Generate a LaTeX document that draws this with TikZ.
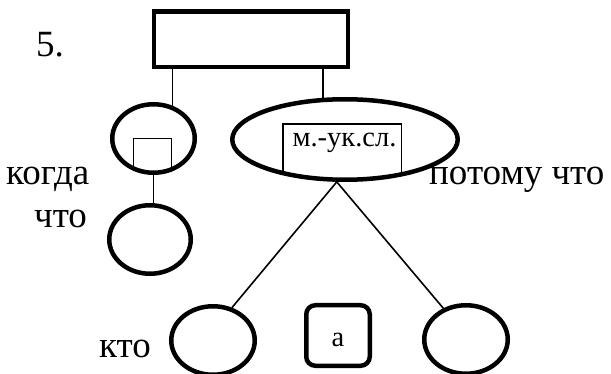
\documentclass[tikz,border=0pt]{standalone}
\usepackage{fontspec}
\newfontfamily\libserif{Liberation Serif}[Extension=.ttf, UprightFont=LiberationSerif-Regular]
\usetikzlibrary{shapes.geometric}
\begin{document}
\begin{tikzpicture}[x=1pt, y=-1pt,
  heavy/.style={draw, line width=4.5pt, inner sep=0pt},
  oval/.style={heavy, ellipse},
  word/.style={inner sep=0pt, anchor=base west, font=\fontsize{37}{40}\selectfont\libserif},
  small/.style={inner sep=0pt, anchor=base, font=\fontsize{28.5}{32}\selectfont\libserif},
  link/.style={line width=1.6pt},
  frame/.style={line width=1.2pt}]
  \useasboundingbox (0,0) rectangle (611,374);
  \node[word] (num) at (36,57) {5.};
  \node[heavy, minimum width=194pt, minimum height=55.5pt] (top) at (251,39.25) {};
  \node[oval, minimum width=82.5pt, minimum height=68.5pt] (when) at (153.5,138.5) {};
  \node[oval, minimum width=81.5pt, minimum height=68.5pt] (what) at (150,239.5) {};
  \node[oval, minimum width=225.5pt, minimum height=80.5pt] (mid) at (345,139.5) {};
  \node[oval, minimum width=83.5pt, minimum height=68.5pt] (who) at (213,340.5) {};
  \node[oval, minimum width=83.5pt, minimum height=68.5pt] (right) at (466,339.5) {};
  \node[heavy, rounded corners=9pt, minimum width=63.5pt, minimum height=60.5pt] (abox) at (338,335.5) {};
  \node[small] (alabel) at (338,346) {а};
  \node[small] (mlabel) at (344.5,147) {м.-ук.сл.};
  \coordinate (mtop) at (342,124);
  \node[word] (kogda) at (6,185) {когда};
  \node[word] (chto) at (34,228) {что};
  \node[word] (kto) at (99,357) {кто};
  \node[word] (potomu) at (429,185) {потому что};
  \draw[link] (top.south -| when.60) -- (when.60);
  \draw[link] (top.south -| mid.118) -- (mid.118);
  \draw[link] (when.south) -- (when.south |- what.north);
  \draw[frame] (when.-122) |- (when.center) -| (when.-61);
  \draw[frame] (mid.-150) |- (mtop) -| (mid.-33);
  \draw[link] (mid.-101) -- (who.60);
  \draw[link] (mid.-101) -- (right.126);
\end{tikzpicture}
\end{document}
